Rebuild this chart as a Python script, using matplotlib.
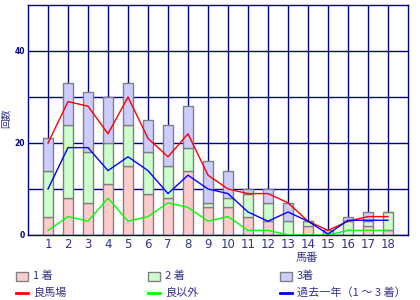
import numpy as np
import matplotlib.pyplot as plt
from matplotlib.patches import Rectangle
from matplotlib.lines import Line2D

plt.rcParams['font.family'] = ['Noto Sans CJK JP', 'DejaVu Sans']

horses = np.arange(1, 19)
first = [4, 8, 7, 11, 15, 9, 8, 14, 6, 6, 4, 3, 0, 2, 0, 0, 2, 1]
second = [10, 16, 11, 9, 9, 9, 7, 5, 1, 2, 5, 4, 3, 1, 0, 3, 1, 4]
third = [7, 9, 13, 10, 9, 7, 9, 9, 9, 6, 1, 3, 4, 0, 1, 1, 2, 0]

good = [20, 29, 28, 22, 30, 21, 17, 22, 13, 10, 9, 9, 7, 3, 1, 3, 4, 4]
not_good = [1, 4, 3, 8, 3, 4, 7, 6, 3, 4, 1, 1, 0, 0, 0, 1, 1, 1]
past_year = [10, 19, 19, 14, 17, 14, 9, 13, 10, 9, 5, 3, 5, 3, 0.2, 3.2, 3.2, 3.2]

navy = '#000080'
fig = plt.figure(figsize=(4.2, 3.0), dpi=100)
ax = fig.add_axes([28/420, 65/300, 380/420, 230/300])

b1 = np.array(first)
b2 = b1 + np.array(second)
ax.bar(horses, first, 0.5, color='#ffcccc', edgecolor='#808080', lw=1, zorder=2)
ax.bar(horses, second, 0.5, bottom=b1, color='#ccffcc', edgecolor='#808080', lw=1, zorder=2)
ax.bar(horses, third, 0.5, bottom=b2, color='#ccccff', edgecolor='#808080', lw=1, zorder=2)

ax.plot(horses, good, color='#ff0000', lw=1, zorder=3)
ax.plot(horses, not_good, color='#00ff00', lw=1, zorder=3)
ax.plot(horses, past_year, color='#0000ff', lw=1, zorder=3)

ax.set_xlim(0, 19)
ax.set_ylim(0, 50)
ax.set_xticks(horses)
ax.set_xticklabels([str(h) for h in horses], fontsize=8.5, color='#333388',
                   family='DejaVu Sans')
ax.set_yticks([0, 20, 40])
ax.set_yticklabels(['0', '20', '40'], fontsize=5.5, fontweight='bold', color=navy,
                   family='DejaVu Sans')
ax.set_yticks([10, 30], minor=True)
ax.tick_params(axis='both', which='both', length=0, pad=2)
ax.grid(True, which='both', color=navy, lw=1)
ax.set_axisbelow(True)
for s in ax.spines.values():
    s.set_color(navy)
    s.set_linewidth(1)

fig.text(307/420, 1 - 258/300, '馬番', fontsize=8, color='#333388', ha='center', va='center')
fig.text(6/420, 1 - 118/300, '回数', fontsize=7, color='#333388', ha='center', va='center',
         rotation=90)

# legend drawn by hand
bar_labels = ['1 着', '2 着', '3着']
bar_colors = ['#ffcccc', '#ccffcc', '#ccccff']
line_labels = ['良馬場', '良以外', '過去一年（1 ～ 3 着）']
line_colors = ['#ff0000', '#00ff00', '#0000ff']
col_x = [16, 148, 280]
for i in range(3):
    x0 = col_x[i]
    fig.patches.append(Rectangle((x0/420, 1 - 281/300), 12/420, 9/300,
                                 transform=fig.transFigure, facecolor=bar_colors[i],
                                 edgecolor='#808080', lw=1))
    fig.text((x0 + 17)/420, 1 - 276/300, bar_labels[i], fontsize=8, color='#333388',
             va='center')
    fig.lines.append(Line2D([x0/420, (x0 + 12)/420], [1 - 293/300, 1 - 293/300],
                            transform=fig.transFigure, color=line_colors[i], lw=2))
    fig.text((x0 + 17)/420, 1 - 293/300, line_labels[i], fontsize=8, color='#333388',
             va='center')

fig.savefig('out.png', dpi=100)
